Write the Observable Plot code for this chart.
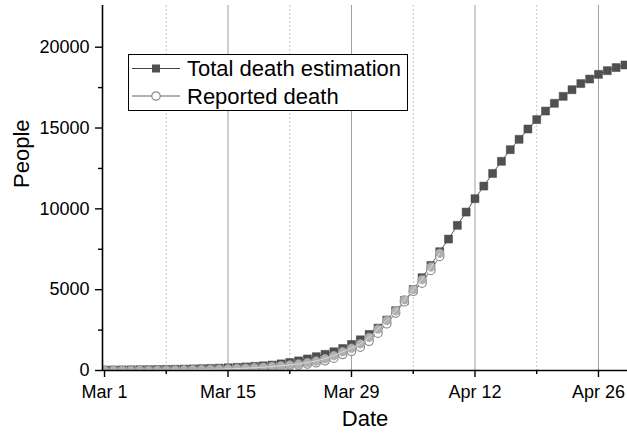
<!DOCTYPE html>
<html><head><meta charset="utf-8">
<script src="https://cdn.jsdelivr.net/npm/d3@7"></script>
<script src="https://cdn.jsdelivr.net/npm/@observablehq/plot@0.6"></script>
<style>
body{margin:0;background:#fff;font-family:"Liberation Sans",Arial,sans-serif;}
#wrap{position:relative;width:627px;height:437px;}
#legend{position:absolute;left:0;top:0;}
</style>
</head><body>
<div id="wrap"></div>
<script>
// Daily series starting Mar 1, 2020
const startDate = "2020-03-01";
const estimation = [30,34,38,43,48,54,61,69,78,88,100,113,128,146,168,193,222,255,292,335,
  410,495,595,715,855,1000,1160,1360,1610,1900,2230,2620,3120,3700,4330,5010,5740,6500,7350,8130,
  8980,9800,10630,11410,12190,12940,13660,14300,14940,15520,16050,16530,16960,17370,17750,18030,18320,18550,18740,18900];
const reported = [2,3,4,5,7,9,12,15,19,24,30,38,48,60,75,92,112,135,162,195,
  235,280,335,400,480,600,760,990,1190,1440,1810,2310,2890,3550,4250,4900,5400,6190,7060];
const shaded = [5,6,8,10,12,15,19,24,30,37,45,55,67,82,100,120,145,172,205,245,
  290,345,410,490,590,730,920,1160,1380,1650,2050,2560,3100,3690,4380,5010,5620,6400,7250];
const xMajorTicks = ["2020-03-01","2020-03-15","2020-03-29","2020-04-12","2020-04-26"];
const xMinorTicks = ["2020-03-08","2020-03-22","2020-04-05","2020-04-19"];
const gridMajor = ["2020-03-15","2020-03-29","2020-04-12","2020-04-26"];
const yMajorTicks = [0,5000,10000,15000,20000];
const yMinorTicks = [2500,7500,12500,17500];
const xDomain = ["2020-02-29T18:30Z","2020-04-29T07:00Z"];
const yDomain = [0, 22580];
const legendLabels = ["Total death estimation","Reported death"];

const start = new Date(startDate + "T00:00Z");
const rows = arr => arr.map((v,i) => ({date: d3.utcDay.offset(start, i), value: v}));
const d = s => new Date(s.length === 10 ? s + "T00:00Z" : s);
const estRows = rows(estimation), repRows = rows(reported), shRows = rows(shaded);

const chart = Plot.plot({
  width: 627, height: 437,
  marginLeft: 102, marginRight: 0, marginTop: 5, marginBottom: 67,
  style: {fontFamily: "Liberation Sans, Arial, sans-serif", fontSize: "18px", color: "#000", background: "#fff", overflow: "visible"},
  x: {type: "utc", domain: xDomain.map(d)},
  y: {domain: yDomain},
  marks: [
    Plot.ruleX(gridMajor.map(d), {stroke: "#a0a0a0", strokeWidth: 1}),
    Plot.ruleX(xMinorTicks.map(d), {stroke: "#c4c4c4", strokeWidth: 1, strokeDasharray: "2,2"}),
    Plot.line(estRows, {x: "date", y: "value", stroke: "#555", strokeWidth: 1, clip: true}),
    Plot.dot(estRows, {x: "date", y: "value", symbol: "square", r: 4.5, fill: "#505050", stroke: "#454545", strokeWidth: 0.5, clip: true}),
    Plot.line(repRows, {x: "date", y: "value", stroke: "#888", strokeWidth: 1, clip: true}),
    Plot.dot(repRows, {x: "date", y: "value", r: 4.2, fill: "#fff", stroke: "#8a8a8a", strokeWidth: 1.2, clip: true}),
    Plot.dot(shRows, {x: "date", y: "value", r: 4.2, fill: "#b0b0b0", stroke: "#a2a2a2", strokeWidth: 0.8, clip: true}),
    Plot.line(shRows, {x: "date", y: "value", stroke: "#fff", strokeWidth: 0.7, strokeOpacity: 0.75, clip: true}),
    Plot.axisY({ticks: yMajorTicks, tickSize: 7, tickPadding: 6, tickFormat: v => String(v), label: null, fontSize: 18, strokeWidth: 1.4}),
    Plot.axisY({ticks: yMinorTicks, tickSize: 4, tickFormat: () => "", label: null, strokeWidth: 1.4}),
    Plot.axisX({ticks: xMajorTicks.map(d), tickSize: 7, tickPadding: 8, tickFormat: d3.utcFormat("%b %-d"), label: null, fontSize: 18, strokeWidth: 1.4}),
    Plot.axisX({ticks: xMinorTicks.map(d), tickSize: 4, tickFormat: () => "", label: null, strokeWidth: 1.4}),
    Plot.ruleY([0], {stroke: "#000", strokeWidth: 1.6}),
    Plot.ruleX([d(xDomain[0])], {stroke: "#000", strokeWidth: 1.6}),
    Plot.text(["People"], {frameAnchor: "left", dx: -81, rotate: -90, fontSize: 22, fill: "#000"}),
    Plot.text(["Date"], {frameAnchor: "bottom", dy: 55, fontSize: 22, fill: "#000"})
  ]
});
const wrap = document.getElementById("wrap");
wrap.appendChild(chart);

// Legend overlay
const ns = "http://www.w3.org/2000/svg";
const lg = document.createElementNS(ns, "svg");
lg.setAttribute("id", "legend");
lg.setAttribute("width", 627); lg.setAttribute("height", 437);
lg.innerHTML = `
  <rect x="128.5" y="54.5" width="279" height="56" fill="#fff" stroke="#000" stroke-width="1"/>
  <line x1="132" x2="180" y1="68.5" y2="68.5" stroke="#444" stroke-width="1"/>
  <rect x="152" y="64.5" width="8" height="8" fill="#505050"/>
  <text x="187" y="76" font-size="22" font-family="Liberation Sans, Arial, sans-serif">${legendLabels[0]}</text>
  <line x1="132" x2="180" y1="96" y2="96" stroke="#666" stroke-width="1"/>
  <circle cx="156" cy="96" r="4.2" fill="#fff" stroke="#8a8a8a" stroke-width="1.2"/>
  <text x="187" y="103.5" font-size="22" font-family="Liberation Sans, Arial, sans-serif">${legendLabels[1]}</text>`;
wrap.appendChild(lg);
</script>
</body></html>
